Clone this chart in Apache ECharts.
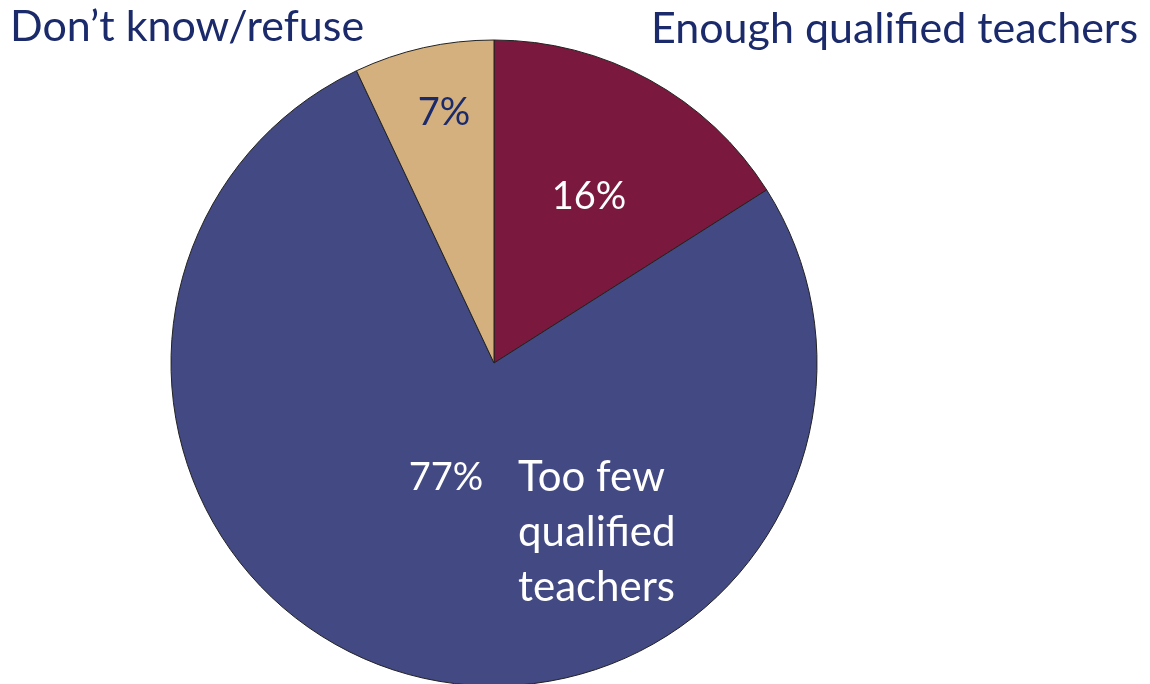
<!DOCTYPE html>
<html>
<head>
<meta charset="utf-8">
<script src="https://cdn.jsdelivr.net/npm/echarts@6/dist/echarts.min.js"></script>
<style>
  html, body { margin: 0; padding: 0; background: #fff; }
  #chart { width: 1150px; height: 684px; }
</style>
</head>
<body>
<div id="chart"></div>
<script>
// 数据
var categories = ['Enough qualified teachers', 'Too few qualified teachers', 'Don\u2019t know/refuse'];
var values = [16, 77, 7];
var sliceColors = ['#7A193D', '#424983', '#D3B07E'];

var chartDom = document.getElementById('chart');
var myChart = echarts.init(chartDom);

var font = 'Lato, "Open Sans", sans-serif';
var navy = '#1B2A6B';

var option = {
  animation: false,
  series: [
    {
      name: 'teachers',
      type: 'pie',
      z: 1,
      center: [494, 363],
      radius: 323,
      startAngle: 90,
      clockwise: true,
      label: { show: false },
      labelLine: { show: false },
      itemStyle: {
        borderColor: '#222',
        borderWidth: 1
      },
      data: categories.map(function (name, i) {
        return { name: name, value: values[i], itemStyle: { color: sliceColors[i] } };
      })
    }
  ],
  //标签（百分比和类别名称）
  graphic: {
    elements: [
      { type: 'text', z: 100, left: 10, top: 6,
        style: { text: categories[2], font: '43px ' + font, fill: navy } },
      { type: 'text', z: 100, right: 12, top: 8,
        style: { text: categories[0], font: '43px ' + font, fill: navy } },
      { type: 'text', z: 100, x: 444, y: 113,
        style: { text: values[2] + '%', font: '38px ' + font, fill: navy, align: 'center', verticalAlign: 'middle' } },
      { type: 'text', z: 100, x: 589, y: 197,
        style: { text: values[0] + '%', font: '38px ' + font, fill: '#fff', align: 'center', verticalAlign: 'middle' } },
      { type: 'text', z: 100, x: 446, y: 478,
        style: { text: values[1] + '%', font: '38px ' + font, fill: '#fff', align: 'center', verticalAlign: 'middle' } },
      { type: 'text', z: 100, x: 518, y: 450,
        style: { text: 'Too few\nqualified\nteachers', font: '42px ' + font, lineHeight: 55, fill: '#fff', align: 'left' } }
    ]
  }
};
option && myChart.setOption(option);
</script>
</body>
</html>
